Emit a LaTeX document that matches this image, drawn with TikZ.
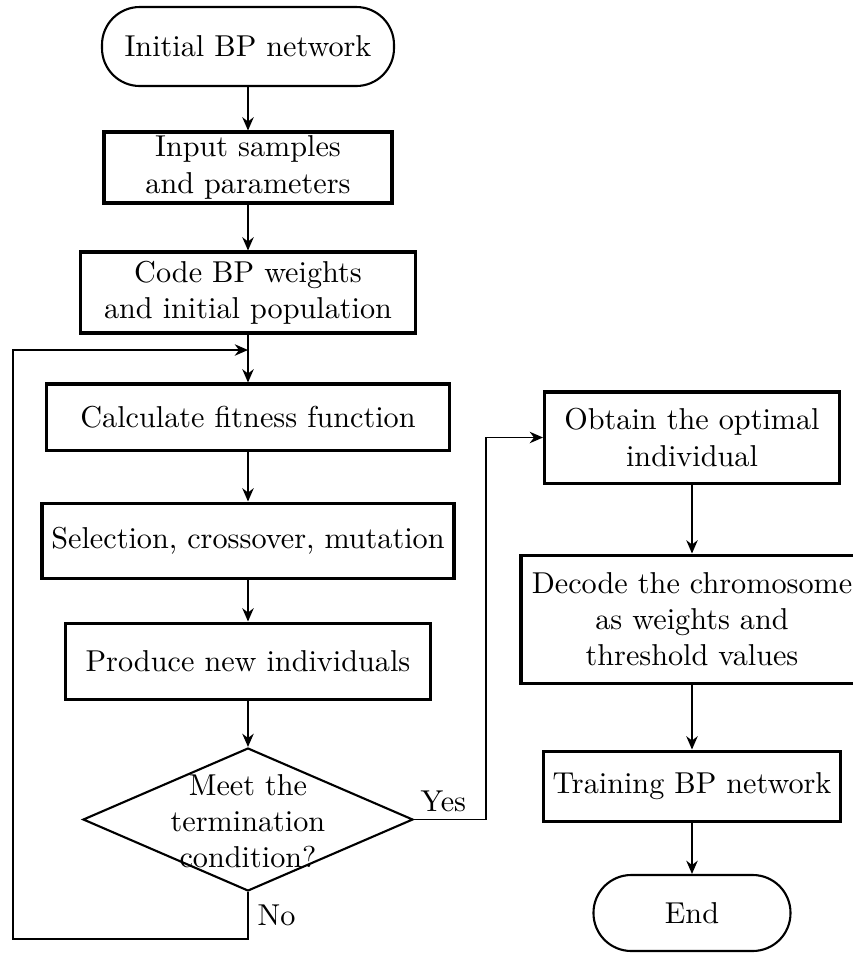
\documentclass[tikz,border=0pt]{standalone}
\usetikzlibrary{shapes.geometric,arrows.meta}
\def\px{*0.331pt}
\begin{document}
\begin{tikzpicture}[x=0.331pt,y=-0.331pt,
  box/.style={draw,line width=1pt,rectangle,inner sep=0pt,align=center},
  term/.style={draw,line width=0.7pt,rectangle,rounded corners=12.5pt,inner sep=0pt,align=center},
  cond/.style={draw,line width=0.7pt,diamond,inner sep=0pt},
  conn/.style={line width=0.45pt,-{Stealth[length=4.4pt,width=3.8pt]}},
  lbl/.style={inner sep=0pt,anchor=west}]
\useasboundingbox (0,0) rectangle (853,959);
\fill[white] (0,0) rectangle (853,959);
\clip (0,0) rectangle (853,959);
% left column
\node[term,minimum width=292\px,minimum height=79\px] (init) at (248,46.5) {Initial BP network};
\node[box,minimum width=288\px,minimum height=71\px] (input) at (248,167.5) {Input samples\\and parameters};
\node[box,minimum width=335\px,minimum height=81\px] (code) at (248,292.5) {Code BP weights\\and initial population};
\node[box,minimum width=403\px,minimum height=66\px] (fit) at (248,417) {Calculate fitness function};
\node[box,minimum width=412\px,minimum height=75\px] (sel) at (248,540.5) {Selection, crossover, mutation};
\node[box,minimum width=365\px,minimum height=76\px] (prod) at (248,661) {Produce new individuals};
\node[cond,minimum width=330\px,minimum height=143\px] (dia) at (248,819.5) {};
\node[align=center,inner sep=0pt] (diat) at (248,821) {Meet the\\termination\\condition?};
% right column
\node[box,minimum width=295\px,minimum height=91\px] (opt) at (692,437.5) {Obtain the optimal\\individual};
\node[box,minimum width=342\px,minimum height=128\px] (dec) at (692,619) {Decode the chromosome\\as weights and\\threshold values};
\node[box,minimum width=297\px,minimum height=70\px] (train) at (692,786) {Training BP network};
\node[term,minimum width=197\px,minimum height=76\px] (end) at (692,913) {End};
% labels
\node[lbl] (yes) at (420,801) {Yes};
\node[lbl] (no) at (257,915) {No};
% coordinates
\coordinate (J) at (248,350);
\coordinate (lb) at (13,939);
\coordinate (ye) at (486,819.5);
% connectors
\draw[conn] (init.south) -- (input.north);
\draw[conn] (input.south) -- (code.north);
\draw[conn] (code.south) -- (fit.north);
\draw[conn] (fit.south) -- (sel.north);
\draw[conn] (sel.south) -- (prod.north);
\draw[conn] (prod.south) -- (dia.north);
\draw[conn] (dia.south) |- (lb) |- (J);
\draw[conn] (dia.east) -- (ye) |- (opt.west);
\draw[conn] (opt.south) -- (dec.north);
\draw[conn] (dec.south) -- (train.north);
\draw[conn] (train.south) -- (end.north);
\end{tikzpicture}
\end{document}
